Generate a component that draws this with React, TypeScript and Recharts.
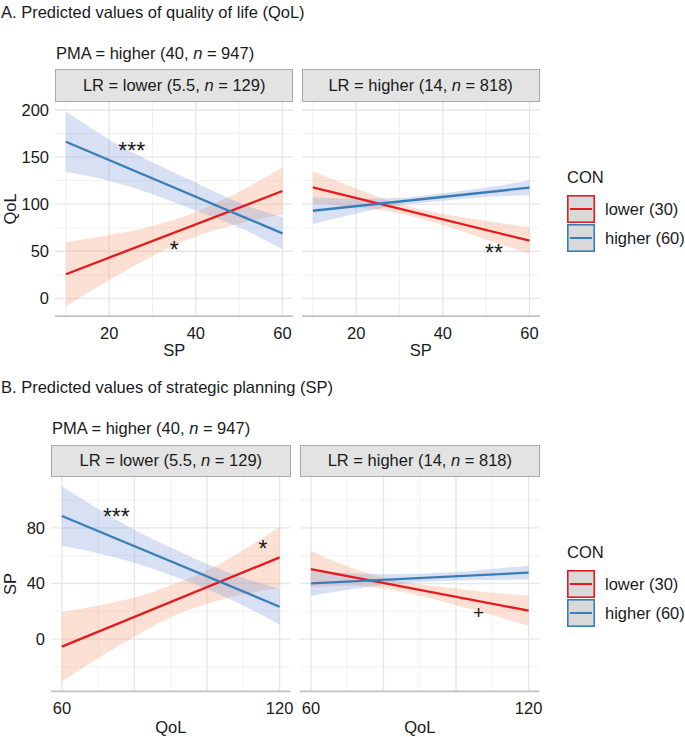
import { ComposedChart, Area, Line, XAxis, YAxis, CartesianGrid, ReferenceDot } from 'recharts';

const FONT = '"Liberation Sans", Arial, Helvetica, sans-serif';
const FS = 16.5;
const INK = '#1a1a1a';

const CON_LEVELS = ['lower (30)', 'higher (60)'];
const CON_COLORS = ['#E41A1C', '#377EB8'];
const BAND_FILLS = ['#F4A582', '#7F9BD6'];
const BAND_OPACITY = [0.35, 0.3];

const SP_X = [10, 20, 30, 40, 50, 60];
const QOL_X = [60, 70, 80, 90, 100, 110, 120];

// A. predicted QoL, LR = lower
const A_LOW_FIT_LOWER = [25.5, 114];
const A_LOW_LO_LOWER = [-8.5, 19.2, 44.9, 65.6, 79.3, 89];
const A_LOW_HI_LOWER = [59.5, 67.2, 76.9, 91.6, 113.3, 139];
const A_LOW_FIT_HIGHER = [166.3, 69];
const A_LOW_LO_HIGHER = [134.3, 124.8, 110.4, 92.9, 75.5, 52];
const A_LOW_HI_HIGHER = [198.3, 168.8, 144.4, 122.9, 101.5, 86];

// A. predicted QoL, LR = higher
const A_HIGH_FIT_LOWER = [117.9, 61.2];
const A_HIGH_LO_LOWER = [100.9, 96.6, 90.2, 77.9, 62.5, 47.2];
const A_HIGH_HI_LOWER = [134.9, 116.6, 100.2, 89.9, 82.5, 75.2];
const A_HIGH_FIT_HIGHER = [93, 117.5];
const A_HIGH_LO_HIGHER = [79, 89.9, 98.8, 103.7, 107.6, 109.5];
const A_HIGH_HI_HIGHER = [107, 105.9, 106.8, 111.7, 117.6, 125.5];

// B. predicted SP, LR = lower
const B_LOW_FIT_LOWER = [-5.5, 58.8];
const B_LOW_LO_LOWER = [-30.5, -13.8, 1.9, 15.7, 25.4, 32.1, 36.8];
const B_LOW_HI_LOWER = [19.5, 24.2, 29.9, 38.7, 49.4, 64.1, 80.8];
const B_LOW_FIT_HIGHER = [88.6, 23.3];
const B_LOW_LO_HIGHER = [67.1, 61.7, 54.8, 46, 36.1, 24.2, 10.3];
const B_LOW_HI_HIGHER = [110.1, 93.7, 78.8, 66, 54.1, 44.2, 36.3];

// B. predicted SP, LR = higher
const B_HIGH_FIT_LOWER = [50.4, 20.4];
const B_HIGH_LO_LOWER = [37.4, 38.4, 36.4, 31.4, 24.4, 17.4, 9.4];
const B_HIGH_HI_LOWER = [63.4, 52.4, 44.4, 39.4, 36.4, 33.4, 31.4];
const B_HIGH_FIT_HIGHER = [40.1, 47.8];
const B_HIGH_LO_HIGHER = [31.1, 35.4, 38.7, 41, 42.2, 42.5, 42.8];
const B_HIGH_HI_HIGHER = [49.1, 47.4, 46.7, 47, 48.2, 50.5, 52.8];

// significance marks
const A_LOW_MARKS = [{ x: 25.2, y: 161.8, label: '***' }, { x: 35, y: 56.6, label: '*' }];
const A_HIGH_MARKS = [{ x: 51.8, y: 54.2, label: '**' }];
const B_LOW_MARKS = [{ x: 75, y: 91.7, label: '***' }, { x: 115.4, y: 68.9, label: '*' }];
const B_HIGH_MARKS = [{ x: 106.2, y: 18.9, label: '+' }];

// axes
const SP_MAJOR = [20, 40, 60];
const SP_MINOR = [10, 30, 50];
const QOL_MAJOR = [60, 80, 100, 120];
const QOL_MINOR = [70, 90, 110];
const QOL_LABELS = [60, 120];
const QOL_Y_MAJOR = [0, 50, 100, 150, 200];
const QOL_Y_MINOR = [25, 75, 125, 175];
const SP_Y_MAJOR = [0, 40, 80];
const SP_Y_MINOR = [-20, 20, 60, 100];

type Row = {
  x: number;
  bandLower: number[];
  bandHigher: number[];
  fitLower: number | null;
  fitHigher: number | null;
};

function buildRows(
  xs: number[],
  fitLower: number[], loLower: number[], hiLower: number[],
  fitHigher: number[], loHigher: number[], hiHigher: number[],
): Row[] {
  const last = xs.length - 1;
  return xs.map((x, i) => ({
    x,
    bandLower: [loLower[i], hiLower[i]],
    bandHigher: [loHigher[i], hiHigher[i]],
    fitLower: i === 0 ? fitLower[0] : i === last ? fitLower[1] : null,
    fitHigher: i === 0 ? fitHigher[0] : i === last ? fitHigher[1] : null,
  }));
}

type PanelProps = {
  left: number;
  top: number;
  plotW: number;
  plotH: number;
  showY: boolean;
  data: Row[];
  xDomain: number[];
  yDomain: number[];
  xMajor: number[];
  xMinor: number[];
  xLabels: number[];
  yMajor: number[];
  yMinor: number[];
  marks: { x: number; y: number; label: string }[];
};

const Y_AXIS_W = 40;
const PAD_TOP = 10;
const PAD_RIGHT = 20;
const X_AXIS_H = 30;

function Panel(p: PanelProps) {
  const yw = p.showY ? Y_AXIS_W : 0;
  return (
    <div style={{ position: 'absolute', left: p.left - yw, top: p.top - PAD_TOP }}>
      <ComposedChart
        width={yw + p.plotW + PAD_RIGHT}
        height={PAD_TOP + p.plotH + X_AXIS_H}
        data={p.data}
        margin={{ top: PAD_TOP, right: PAD_RIGHT, bottom: 0, left: 0 }}
      >
        <CartesianGrid verticalValues={p.xMinor} horizontalValues={p.yMinor} stroke="#eeeeee" strokeWidth={0.8} fill="none" />
        <CartesianGrid verticalValues={p.xMajor} horizontalValues={p.yMajor} stroke="#e6e6e6" strokeWidth={1.3} fill="none" />
        <XAxis
          dataKey="x"
          type="number"
          domain={p.xDomain}
          ticks={p.xLabels}
          interval={0}
          allowDataOverflow
          height={X_AXIS_H}
          tickLine={false}
          tickSize={9}
          tickMargin={2}
          axisLine={{ stroke: '#c2c2c2', strokeWidth: 1.7 }}
          tick={{ fill: INK, fontSize: FS }}
        />
        <YAxis
          type="number"
          domain={p.yDomain}
          ticks={p.yMajor}
          interval={0}
          allowDataOverflow
          hide={!p.showY}
          width={yw}
          tickLine={false}
          axisLine={false}
          tickSize={4}
          tickMargin={2}
          tick={{ fill: INK, fontSize: FS }}
        />
        <Area type="monotone" dataKey="bandLower" stroke="none" fill={BAND_FILLS[0]} fillOpacity={BAND_OPACITY[0]} isAnimationActive={false} activeDot={false} />
        <Area type="monotone" dataKey="bandHigher" stroke="none" fill={BAND_FILLS[1]} fillOpacity={BAND_OPACITY[1]} isAnimationActive={false} activeDot={false} />
        <Line type="linear" dataKey="fitLower" stroke={CON_COLORS[0]} strokeWidth={2.3} dot={false} activeDot={false} connectNulls isAnimationActive={false} />
        <Line type="linear" dataKey="fitHigher" stroke={CON_COLORS[1]} strokeWidth={2.3} dot={false} activeDot={false} connectNulls isAnimationActive={false} />
        {p.marks.map((m) => (
          <ReferenceDot
            key={m.label + m.x}
            x={m.x}
            y={m.y}
            r={0}
            shape={(s: any) => (
              <text
                x={s.cx}
                y={s.cy}
                dy={m.label === '+' ? '0.35em' : '0.58em'}
                textAnchor="middle"
                fontSize={m.label === '+' ? 19 : 23}
                fill={INK}
              >
                {m.label}
              </text>
            )}
          />
        ))}
      </ComposedChart>
    </div>
  );
}

function Txt({ x, cy, children, align = 'left', w = 0 }: any) {
  const style: any = {
    position: 'absolute',
    top: cy - 10,
    height: 20,
    lineHeight: '20px',
    whiteSpace: 'nowrap',
    fontSize: FS,
    color: INK,
  };
  if (align === 'center') {
    style.left = x - w / 2;
    style.width = w;
    style.textAlign = 'center';
  } else {
    style.left = x;
  }
  return <div style={style}>{children}</div>;
}

function Strip({ left, top, width, height, children }: any) {
  return (
    <div
      style={{
        position: 'absolute',
        left,
        top,
        width,
        height,
        boxSizing: 'border-box',
        background: '#e3e3e3',
        border: '1.5px solid #a9a9a9',
        textAlign: 'center',
        lineHeight: `${height - 3}px`,
        fontSize: FS,
        color: INK,
        whiteSpace: 'nowrap',
      }}
    >
      {children}
    </div>
  );
}

function YTitle({ cx, cy, children }: any) {
  return (
    <div
      style={{
        position: 'absolute',
        left: cx - 30,
        top: cy - 10,
        width: 60,
        height: 20,
        lineHeight: '20px',
        textAlign: 'center',
        fontSize: FS,
        color: INK,
        transform: 'rotate(-90deg)',
      }}
    >
      {children}
    </div>
  );
}

function LegendBlock({ top }: { top: number }) {
  return (
    <>
      <Txt x={567} cy={top}>CON</Txt>
      {CON_LEVELS.map((name, i) => (
        <div key={name}>
          <svg
            width={28}
            height={28}
            style={{ position: 'absolute', left: 567, top: top + 17.5 + i * 29 }}
          >
            <rect x={0.8} y={0.8} width={26.4} height={26.4} fill="#d9d9d9" stroke={CON_COLORS[i]} strokeWidth={1.6} />
            <line x1={3} x2={25} y1={14} y2={14} stroke={CON_COLORS[i]} strokeWidth={2} />
          </svg>
          <Txt x={605} cy={top + 31.5 + i * 29}>{name}</Txt>
        </div>
      ))}
    </>
  );
}

const A_LOW = buildRows(SP_X, A_LOW_FIT_LOWER, A_LOW_LO_LOWER, A_LOW_HI_LOWER, A_LOW_FIT_HIGHER, A_LOW_LO_HIGHER, A_LOW_HI_HIGHER);
const A_HIGH = buildRows(SP_X, A_HIGH_FIT_LOWER, A_HIGH_LO_LOWER, A_HIGH_HI_LOWER, A_HIGH_FIT_HIGHER, A_HIGH_LO_HIGHER, A_HIGH_HI_HIGHER);
const B_LOW = buildRows(QOL_X, B_LOW_FIT_LOWER, B_LOW_LO_LOWER, B_LOW_HI_LOWER, B_LOW_FIT_HIGHER, B_LOW_LO_HIGHER, B_LOW_HI_HIGHER);
const B_HIGH = buildRows(QOL_X, B_HIGH_FIT_LOWER, B_HIGH_LO_LOWER, B_HIGH_HI_LOWER, B_HIGH_FIT_HIGHER, B_HIGH_LO_HIGHER, B_HIGH_HI_HIGHER);

export default function App() {
  const aTop = 102;
  const aH = 214.2;
  const bTop = 477;
  const bH = 214.4;
  const aCommon = {
    plotH: aH,
    xDomain: [7.5, 62.5],
    yDomain: [-19, 208.5],
    xMajor: SP_MAJOR,
    xMinor: SP_MINOR,
    xLabels: SP_MAJOR,
    yMajor: QOL_Y_MAJOR,
    yMinor: QOL_Y_MINOR,
  };
  const bCommon = {
    plotH: bH,
    xDomain: [57, 123],
    yDomain: [-37.7, 116.7],
    xMajor: QOL_MAJOR,
    xMinor: QOL_MINOR,
    xLabels: QOL_LABELS,
    yMajor: SP_Y_MAJOR,
    yMinor: SP_Y_MINOR,
  };
  const a1 = { left: 55, w: 238.3 };
  const a2 = { left: 301.5, w: 238.3 };
  const b1 = { left: 51.1, w: 239.5 };
  const b2 = { left: 300.1, w: 239.5 };

  return (
    <div
      style={{
        position: 'absolute',
        left: 0,
        top: 0,
        width: 685,
        height: 737,
        background: '#fff',
        fontFamily: FONT,
        overflow: 'hidden',
      }}
    >
      <Txt x={1} cy={12}>A. Predicted values of quality of life (QoL)</Txt>
      <Txt x={56} cy={53}>PMA = higher (40, <i>n</i> = 947)</Txt>
      <Strip left={a1.left} top={69} width={a1.w} height={33}>LR = lower (5.5, <i>n</i> = 129)</Strip>
      <Strip left={a2.left} top={69} width={a2.w} height={33}>LR = higher (14, <i>n</i> = 818)</Strip>
      <Panel left={a1.left} top={aTop} plotW={a1.w} showY data={A_LOW} marks={A_LOW_MARKS} {...aCommon} />
      <Panel left={a2.left} top={aTop} plotW={a2.w} showY={false} data={A_HIGH} marks={A_HIGH_MARKS} {...aCommon} />
      <YTitle cx={10} cy={aTop + aH / 2}>QoL</YTitle>
      <Txt x={a1.left + a1.w / 2} cy={350} align="center" w={100}>SP</Txt>
      <Txt x={a2.left + a2.w / 2} cy={350} align="center" w={100}>SP</Txt>
      <LegendBlock top={177} />

      <Txt x={1} cy={387}>B. Predicted values of strategic planning (SP)</Txt>
      <Txt x={52} cy={428}>PMA = higher (40, <i>n</i> = 947)</Txt>
      <Strip left={b1.left} top={445} width={b1.w} height={32}>LR = lower (5.5, <i>n</i> = 129)</Strip>
      <Strip left={b2.left} top={445} width={b2.w} height={32}>LR = higher (14, <i>n</i> = 818)</Strip>
      <Panel left={b1.left} top={bTop} plotW={b1.w} showY data={B_LOW} marks={B_LOW_MARKS} {...bCommon} />
      <Panel left={b2.left} top={bTop} plotW={b2.w} showY={false} data={B_HIGH} marks={B_HIGH_MARKS} {...bCommon} />
      <YTitle cx={10} cy={bTop + bH / 2}>SP</YTitle>
      <Txt x={b1.left + b1.w / 2} cy={727} align="center" w={100}>QoL</Txt>
      <Txt x={b2.left + b2.w / 2} cy={727} align="center" w={100}>QoL</Txt>
      <LegendBlock top={552} />
    </div>
  );
}
